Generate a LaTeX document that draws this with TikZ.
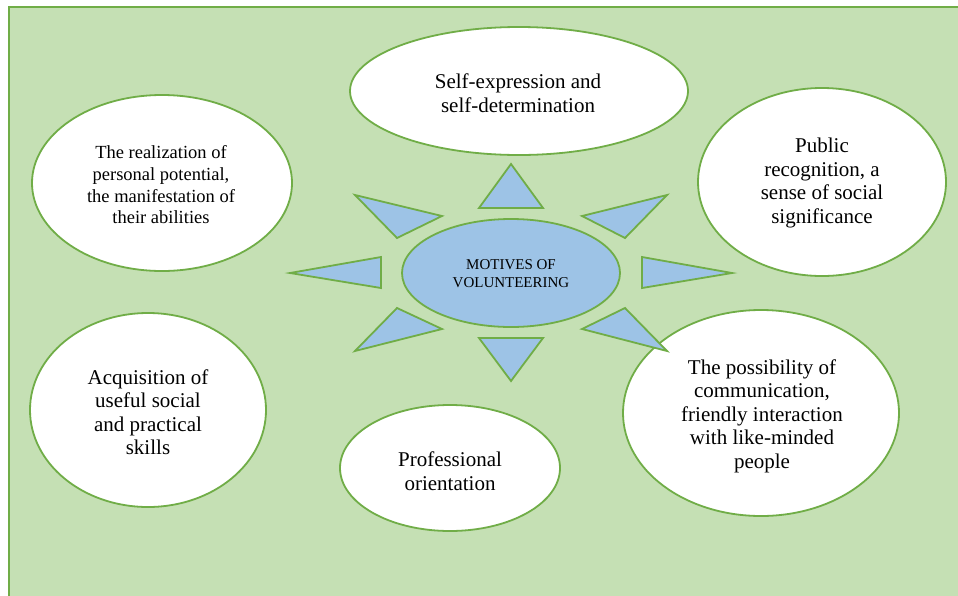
\documentclass[tikz,border=0pt]{standalone}
\usepackage{fontspec}
\setmainfont{Liberation Serif}
\usetikzlibrary{shapes.geometric}
\definecolor{bgg}{HTML}{C5E0B4}
\definecolor{lineg}{HTML}{70AD47}
\definecolor{tri}{HTML}{9DC3E6}
\begin{document}
\begin{tikzpicture}[x=1pt,y=-1pt,
 oval/.style={ellipse, draw=lineg, line width=1.8pt, fill=white, inner sep=0pt},
 ray/.style={draw=lineg, line width=1.8pt, fill=tri, line join=miter},
 lbl/.style={align=center, inner sep=0pt, font=\fontsize{21}{23.5}\selectfont}]
\useasboundingbox (0,0) rectangle (958,595);
\draw[fill=bgg, draw=lineg, line width=2pt] (9,7) rectangle (975,615);

% outer ovals
\node[oval, minimum width=338pt, minimum height=128pt] (etop) at (519,91) {};
\node[oval, minimum width=260pt, minimum height=176pt] (eul) at (162,183) {};
\node[oval, minimum width=248pt, minimum height=188pt] (eur) at (822,182) {};
\node[oval, minimum width=236pt, minimum height=194pt] (ell) at (148,410) {};
\node[oval, minimum width=220pt, minimum height=126pt] (ebot) at (450,468) {};
\node[oval, minimum width=276pt, minimum height=206pt] (elr) at (761,413) {};

% central oval
\node[oval, fill=tri, minimum width=218pt, minimum height=108pt] (ecen) at (511,273) {};

% rays
\draw[ray] (511,164) -- (479,208) -- (543,208) -- cycle;
\draw[ray] (355,195) -- (442,216) -- (397,238) -- cycle;
\draw[ray] (667,195) -- (582,216) -- (625,238) -- cycle;
\draw[ray] (290,273) -- (381,257) -- (381,288) -- cycle;
\draw[ray] (732,273) -- (642,257) -- (642,288) -- cycle;
\draw[ray] (397,308) -- (442,329) -- (355,351) -- cycle;
\draw[ray] (625,308) -- (582,329) -- (667,351) -- cycle;
\draw[ray] (479,338) -- (543,338) -- (511,381) -- cycle;

% labels
\node[lbl] (ttop) at (518,93) {Self-expression and\\self-determination};
\node[lbl, font=\fontsize{18.5}{21.7}\selectfont] (tul) at (161,185) {The realization of\\personal potential,\\the manifestation of\\their abilities};
\node[lbl] (tur) at (822,183) {Public\\recognition, a\\sense of social\\significance};
\node[lbl] (tll) at (148,412) {Acquisition of\\useful social\\and practical\\skills};
\node[lbl] (tbot) at (450,471) {Professional\\orientation};
\node[lbl] (tlr) at (762,416) {The possibility of\\communication,\\friendly interaction\\with like-minded\\people};
\node[lbl, font=\fontsize{15}{18}\selectfont] (tcen) at (511,274) {MOTIVES OF\\VOLUNTEERING};
\end{tikzpicture}
\end{document}
